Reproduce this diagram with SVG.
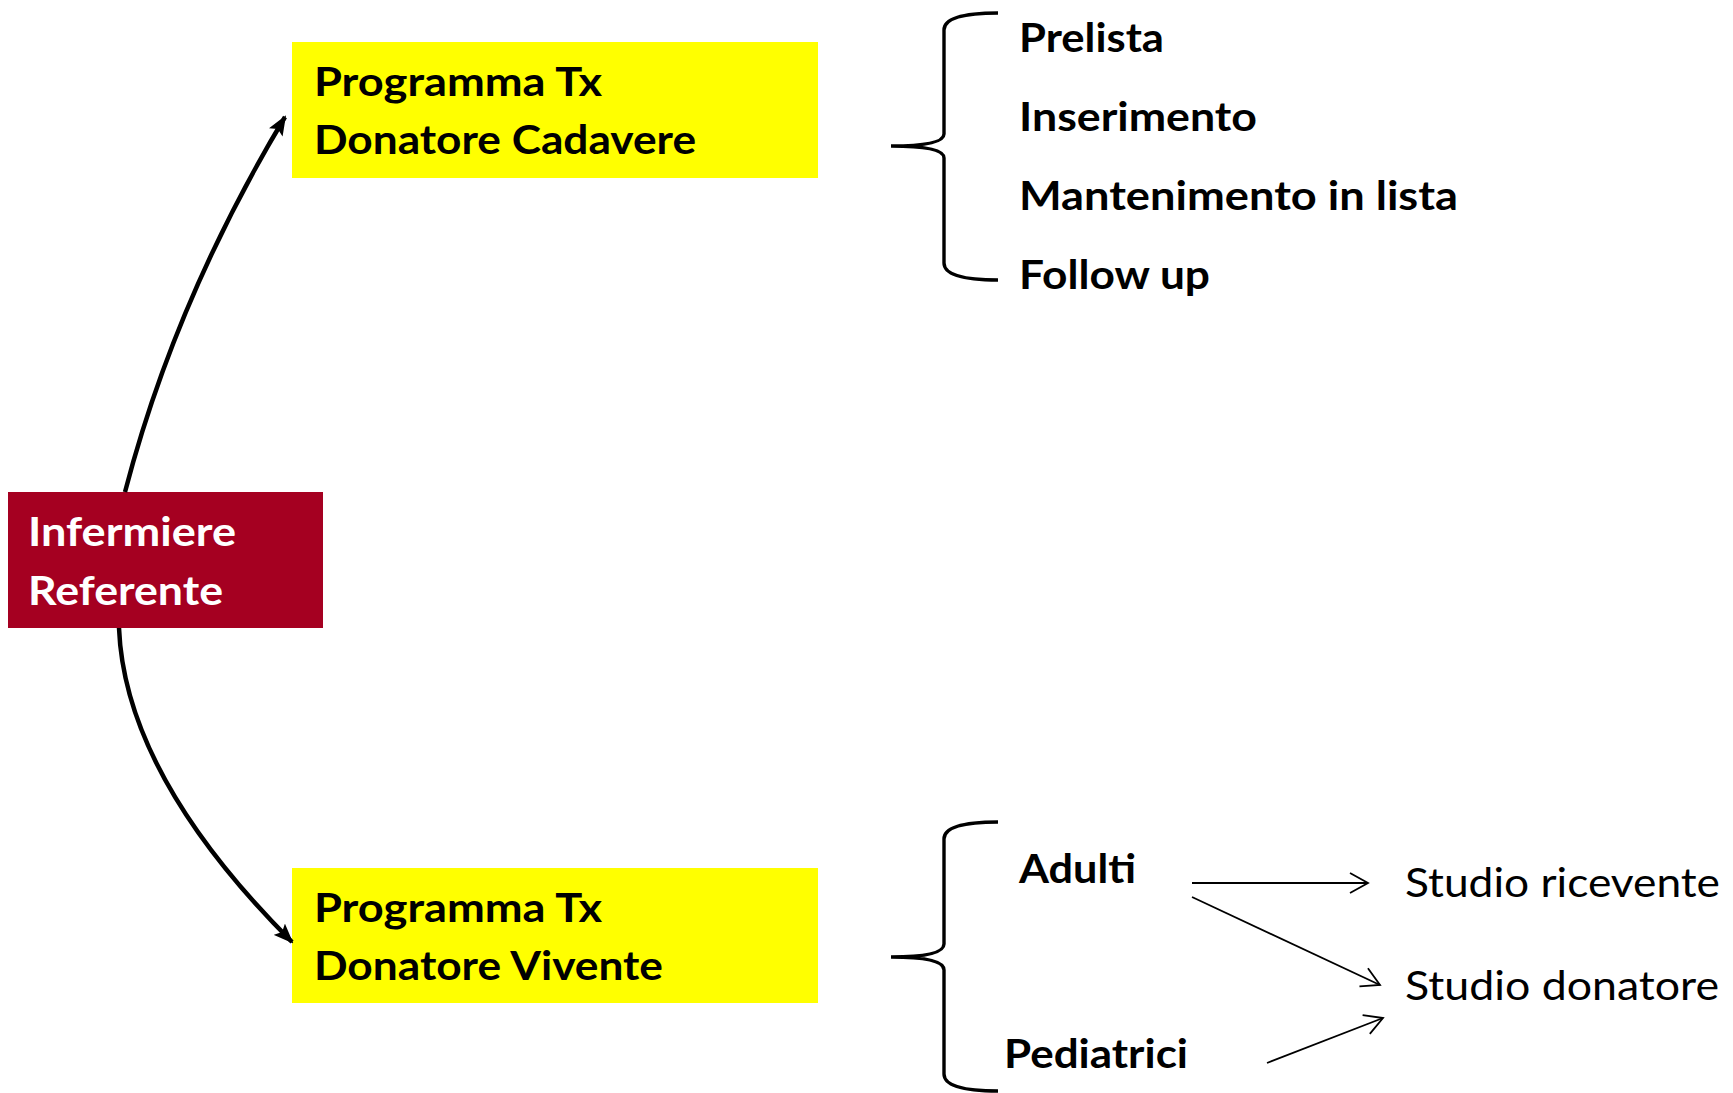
<svg xmlns="http://www.w3.org/2000/svg" width="1733" height="1093" viewBox="0 0 1733 1093">
<style>
  .t { font-family: Lato, "Open Sans", "Liberation Sans", sans-serif; font-size: 40px; }
  .b { font-weight: bold; }
  .blk { fill: #000; }
  .wht { fill: #fff; }
  .yellow { fill: #FFFF00; }
  .red { fill: #A50021; }
  .thick { fill: none; stroke: #000; stroke-width: 4.5; }
  .thin { fill: none; stroke: #000; stroke-width: 1.8; }
  .brace { fill: none; stroke: #000; stroke-width: 3.4; }
</style>
<defs>
  <marker id="solid" viewBox="0 0 20 16" refX="18" refY="8" markerWidth="20" markerHeight="16" markerUnits="userSpaceOnUse" orient="auto">
    <path d="M0,0 L20,8 L0,16 L4,8 z" fill="#000"/>
  </marker>
  <marker id="open" viewBox="0 0 22 22" refX="20" refY="11" markerWidth="22" markerHeight="22" markerUnits="userSpaceOnUse" orient="auto">
    <path d="M2,1 L20,11 L2,21" fill="none" stroke="#000" stroke-width="1.8"/>
  </marker>
</defs>
<rect width="1733" height="1093" fill="#fff"/>

<g id="node-infermiere">
  <rect class="red" x="8" y="492" width="315" height="136"/>
  <text class="t b wht" x="28" y="546" textLength="208" lengthAdjust="spacingAndGlyphs">Infermiere</text>
  <text class="t b wht" x="28" y="605" textLength="195" lengthAdjust="spacingAndGlyphs">Referente</text>
</g>

<g id="node-cadavere">
  <rect class="yellow" x="292" y="42" width="526" height="136"/>
  <text class="t b blk" x="314" y="96" textLength="288" lengthAdjust="spacingAndGlyphs">Programma Tx</text>
  <text class="t b blk" x="314" y="154" textLength="382" lengthAdjust="spacingAndGlyphs">Donatore Cadavere</text>
</g>

<g id="node-vivente">
  <rect class="yellow" x="292" y="868" width="526" height="135"/>
  <text class="t b blk" x="314" y="922" textLength="288" lengthAdjust="spacingAndGlyphs">Programma Tx</text>
  <text class="t b blk" x="314" y="980" textLength="349" lengthAdjust="spacingAndGlyphs">Donatore Vivente</text>
</g>

<g id="node-cadavere-list">
  <text class="t b blk" x="1019" y="52" textLength="145" lengthAdjust="spacingAndGlyphs">Prelista</text>
  <text class="t b blk" x="1019" y="131" textLength="238" lengthAdjust="spacingAndGlyphs">Inserimento</text>
  <text class="t b blk" x="1019" y="210" textLength="439" lengthAdjust="spacingAndGlyphs">Mantenimento in lista</text>
  <text class="t b blk" x="1019" y="289" textLength="191" lengthAdjust="spacingAndGlyphs">Follow up</text>
</g>

<g id="node-adulti">
  <text class="t b blk" x="1019" y="883" textLength="117" lengthAdjust="spacingAndGlyphs">Adulti</text>
</g>
<g id="node-pediatrici">
  <text class="t b blk" x="1004" y="1068" textLength="184" lengthAdjust="spacingAndGlyphs">Pediatrici</text>
</g>
<g id="node-studio-ricevente">
  <text class="t blk" x="1405" y="897" textLength="315" lengthAdjust="spacingAndGlyphs">Studio ricevente</text>
</g>
<g id="node-studio-donatore">
  <text class="t blk" x="1405" y="1000" textLength="314" lengthAdjust="spacingAndGlyphs">Studio donatore</text>
</g>

<g id="connectors">
  <path class="thick" d="M125,492 Q175,300 285,117" marker-end="url(#solid)"/>
  <path class="thick" d="M119,628 Q125,775 292,942" marker-end="url(#solid)"/>
  <path class="brace" d="M998,13 Q944,13 944,30 L944,134 Q944,146 891,146 Q944,146 944,158 L944,263 Q944,280 998,280"/>
  <path class="brace" d="M998,822 Q944,822 944,839 L944,944 Q944,957 891,957 Q944,957 944,970 L944,1074 Q944,1091 998,1091"/>
  <line class="thin" x1="1192" y1="883" x2="1368" y2="883" marker-end="url(#open)"/>
  <line class="thin" x1="1192" y1="897" x2="1380" y2="985" marker-end="url(#open)"/>
  <line class="thin" x1="1267" y1="1063" x2="1383" y2="1018" marker-end="url(#open)"/>
</g>
</svg>
